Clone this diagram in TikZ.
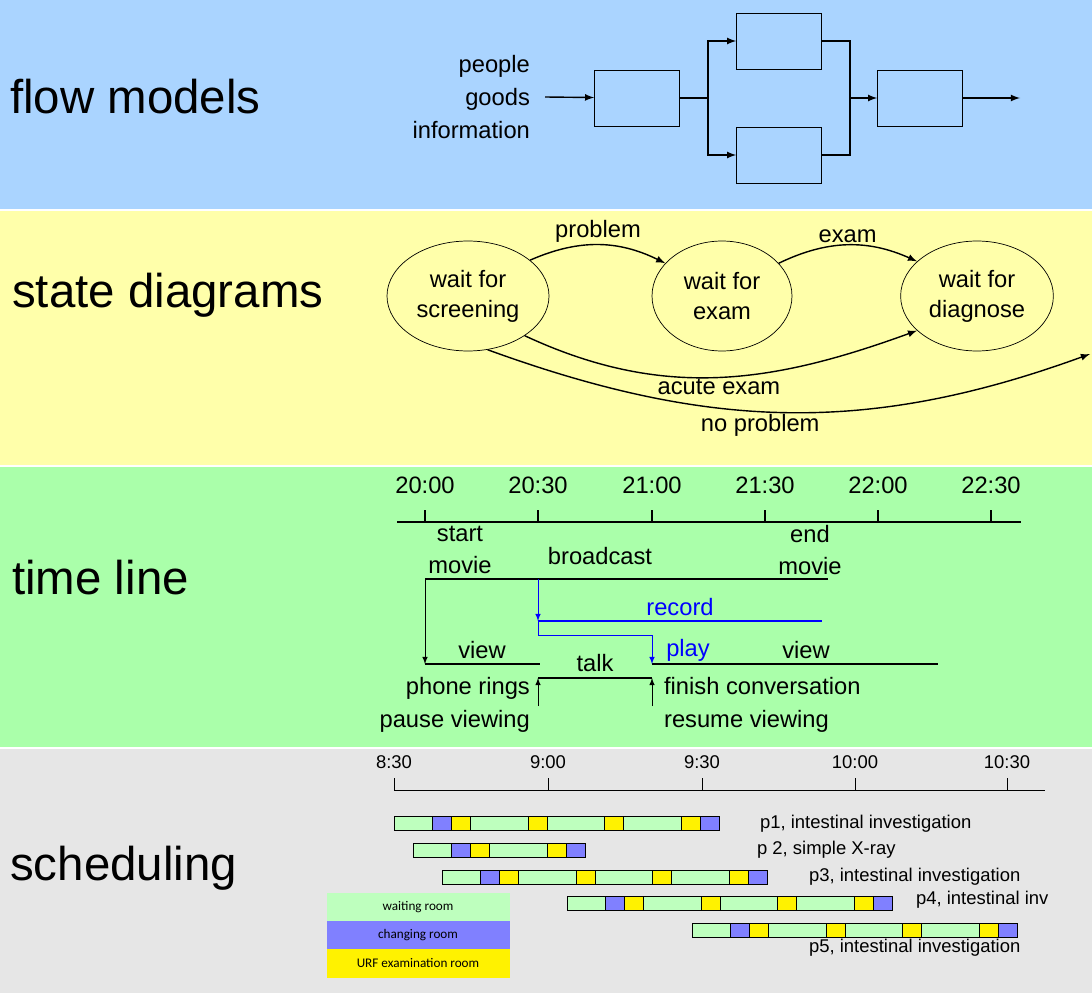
\documentclass[tikz,border=0pt]{standalone}
\usepackage{fontspec}
\setmainfont{Liberation Sans}
\newfontfamily\legendfont{Carlito}
\usetikzlibrary{arrows,shapes,positioning}
\definecolor{flowbg}{RGB}{170,212,255}
\definecolor{statebg}{RGB}{255,255,170}
\definecolor{timebg}{RGB}{170,255,170}
\definecolor{schedbg}{RGB}{230,230,230}
\definecolor{waitc}{RGB}{190,255,190}
\definecolor{chgc}{RGB}{128,128,255}
\tikzstyle{title}=[anchor=west,font=\fontsize{27}{30}\selectfont]
\tikzstyle{txt}=[font=\fontsize{13.5}{15}\selectfont,inner sep=1pt]
\tikzstyle{small}=[font=\fontsize{10.5}{12}\selectfont,inner sep=1pt]
\tikzstyle{box}=[draw,minimum width=1.7cm,minimum height=1.12cm]
\tikzstyle{state}=[draw,ellipse,minimum width=2.8cm,minimum height=2.2cm,font=\fontsize{13.5}{17}\selectfont,align=center]
\tikzstyle{edge} = [draw,thick,->,>=latex]
\tikzstyle{seg}=[draw,thin]
\newcommand{\patient}[3]{%
  \xdef\segx{#2}
  \foreach \c/\n in {#3}{
    \pgfmathsetmacro\segend{\segx+\n*19.15}
    \draw[seg,fill=\c] (\segx,#1) rectangle (\segend,#1+14);
    \xdef\segx{\segend}
  }}

\begin{document}
\begin{tikzpicture}[x=0.02cm,y=-0.02cm]
      \useasboundingbox (0,0) rectangle (1092,993);
      % backgrounds
      \fill[flowbg] (0,0) rectangle (1092,209);
      \fill[statebg] (0,211) rectangle (1092,465);
      \fill[timebg] (0,467) rectangle (1092,747);
      \fill[schedbg] (0,749) rectangle (1092,993);
      \node[title] at (4,97) {flow models};
      \node[title] at (6,295) {state diagrams};
      \node[title] at (6,578) {time line};
      \node[title] at (4,868) {scheduling};

      % flow models
      \node[txt,align=right,anchor=east] (src) at (532,97) {people\\[4pt]goods\\[4pt]information};
      \node[box] (b1) at (637,98) {};
      \node[box] (b2) at (779,41) {};
      \node[box] (b3) at (779,155) {};
      \node[box] (b4) at (920,98) {};
      \coordinate (out) at (1020,98);
      \coordinate (split) at (708,98);
      \coordinate (merge) at (850,98);
      \draw[edge] (src.east) ++(13,0) -- (b1);
      \draw[thick] (b1) -- (split);
      \draw[edge] (split) |- (b2);
      \draw[edge] (split) |- (b3);
      \draw[thick] (b2) -| (merge);
      \draw[thick] (b3) -| (merge);
      \draw[edge] (merge) -- (b4);
      \draw[edge] (b4) -- (out);

      % state diagrams
      \node[state] (s1) at (468,296) {wait for\\screening};
      \node[state] (s2) at (722,296) {wait for\\exam};
      \node[state] (s3) at (977,296) {wait for\\diagnose};
      \coordinate (gone) at (1090,354);
      \draw[edge] (s1.30) to[bend left=25] node[txt,above] {problem} (s2.150);
      \draw[edge] (s2.30) to[bend left=25] node[txt,above] {exam} (s3.150);
      \draw[edge] (s1.-35) to[out=-25,in=200] node[txt,below,pos=0.5] {acute exam} (s3.-150);
      \draw[edge] (s1.-70) to[out=-20,in=200] node[txt,below,pos=0.45] {no problem} (gone);

      % time line
      \draw[thick] (397,522) -- (1021,522);
      \foreach \x/\t in {425/20:00,538/20:30,652/21:00,765/21:30,878/22:00,991/22:30}{
        \draw[thick] (\x,522) -- (\x,510);
        \node[txt] at (\x,485) {\t};
      }
      \coordinate (ms) at (425,579); \coordinate (me) at (828,579);
      \coordinate (rs) at (538,621); \coordinate (re) at (822,621);
      \coordinate (v1s) at (425,664); \coordinate (v1e) at (540,664);
      \coordinate (ts) at (538,678); \coordinate (te) at (652,678);
      \coordinate (v2s) at (652,664); \coordinate (v2e) at (938,664);
      \draw[ultra thick] (ms) -- (me);
      \draw[ultra thick,blue] (rs) -- (re);
      \draw[ultra thick] (v1s) -- (v1e);
      \draw[ultra thick] (ts) -- (te);
      \draw[ultra thick] (v2s) -- (v2e);
      \draw[->,>=latex] (ms) -- (v1s);
      \draw[->,>=latex,blue] (538,579) -- (rs);
      \draw[->,>=latex,blue] (rs) -- (538,635) -| (v2s);
      \draw[->,>=latex] (538,706) -- (ts);
      \draw[->,>=latex] (652,706) -- (te);
      \node[txt,align=center] at (460,550) {start\\[3pt]movie};
      \node[txt,align=center] at (810,550) {end\\[3pt]movie};
      \node[txt] at (600,556) {broadcast};
      \node[txt,blue] at (680,607) {record};
      \node[txt,blue] at (688,650) {play};
      \node[txt] at (482,650) {view};
      \node[txt] at (595,663) {talk};
      \node[txt] at (806,650) {view};
      \node[txt,align=right,anchor=east] at (532,705) {phone rings\\[4pt]pause viewing};
      \node[txt,align=left,anchor=west] at (662,705) {finish conversation\\[4pt]resume viewing};

      % scheduling
      \draw (394,790) -- (1045,790);
      \foreach \x/\t in {394/8:30,548/9:00,702/9:30,855/10:00,1007/10:30}{
        \draw (\x,790) -- (\x,778);
        \node[small] at (\x,762) {\t};
      }
      \patient{816}{394}{waitc/2,chgc/1,yellow/1,waitc/3,yellow/1,waitc/3,yellow/1,waitc/3,yellow/1,chgc/1}
      \patient{843}{413}{waitc/2,chgc/1,yellow/1,waitc/3,yellow/1,chgc/1}
      \patient{870}{442}{waitc/2,chgc/1,yellow/1,waitc/3,yellow/1,waitc/3,yellow/1,waitc/3,yellow/1,chgc/1}
      \patient{896}{567}{waitc/2,chgc/1,yellow/1,waitc/3,yellow/1,waitc/3,yellow/1,waitc/3,yellow/1,chgc/1}
      \patient{923}{692}{waitc/2,chgc/1,yellow/1,waitc/3,yellow/1,waitc/3,yellow/1,waitc/3,yellow/1,chgc/1}
      \node[small,anchor=west] at (758,824) {p1, intestinal investigation};
      \node[small,anchor=west] at (755,850) {p 2, simple X-ray};
      \node[small,anchor=west] at (807,877) {p3, intestinal investigation};
      \node[small,anchor=west] at (914,900) {p4, intestinal inv};
      \node[small,anchor=west] at (807,948) {p5, intestinal investigation};
      \fill[waitc] (327,893) rectangle (510,921);
      \fill[chgc] (327,921) rectangle (510,949);
      \fill[yellow] (327,949) rectangle (510,978);
      \node[font=\legendfont\fontsize{7.5}{9}\selectfont] at (418,907) {waiting room};
      \node[font=\legendfont\fontsize{7.5}{9}\selectfont] at (418,935) {changing room};
      \node[font=\legendfont\fontsize{7.5}{9}\selectfont] at (418,963) {URF examination room};
    \end{tikzpicture}
\end{document}
